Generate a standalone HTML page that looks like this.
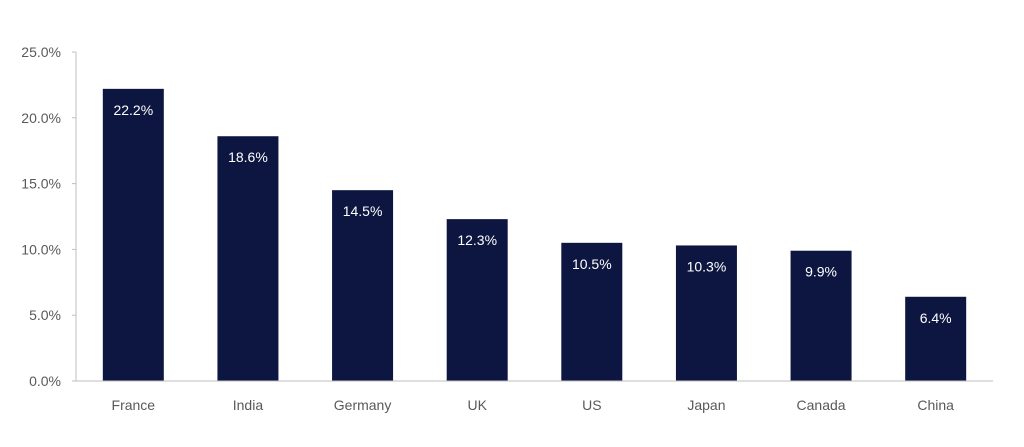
<!DOCTYPE html>
<html><head><meta charset="utf-8"><style>
html,body{margin:0;padding:0;background:#fff;}
svg{display:block;font-family:"Liberation Sans",sans-serif;}
</style></head><body>
<svg id="chart" width="1024" height="447"></svg>
<script>
const categories = ["France","India","Germany","UK","US","Japan","Canada","China"];
const values = [22.2,18.6,14.5,12.3,10.5,10.3,9.9,6.4];
const ticks = [0,5,10,15,20,25];
const tickLabels = ["0.0%","5.0%","10.0%","15.0%","20.0%","25.0%"];

const NS="http://www.w3.org/2000/svg";
const svg=document.getElementById('chart');
const x0=76,x1=993,y0=381,y1=52,maxV=25;
const band=(x1-x0)/categories.length, barW=61;
const y=v=>y0-(v/maxV)*(y0-y1);
const xc=i=>x0+band*(i+0.5);
function mk(tag,attrs,parent){const e=document.createElementNS(NS,tag);for(const k in attrs)e.setAttribute(k,attrs[k]);(parent||svg).appendChild(e);return e;}

const yAxis=mk('line',{x1:x0,y1:y1,x2:x0,y2:y0,stroke:'#bfbfbf','stroke-width':1});


ticks.forEach((t,i)=>{
  const tm=mk('line',{x1:x0-4,y1:y(t),x2:x0,y2:y(t),stroke:'#bfbfbf','stroke-width':1});
  
  
  const tl=mk('text',{x:61,y:y(t)+5,'text-anchor':'end','font-size':14,fill:'#595959'});
  tl.textContent=tickLabels[i];
  
  
});
categories.forEach((c,i)=>{
  const r=mk('rect',{x:xc(i)-barW/2,y:y(values[i]),width:barW,height:y0-y(values[i]),fill:'#0d1640'});
  
  
  const vl=mk('text',{x:xc(i),y:y(values[i])+26,'text-anchor':'middle','font-size':14,fill:'#ffffff'});
  vl.textContent=values[i].toFixed(1)+'%';
  
  
  const cl=mk('text',{x:xc(i),y:410,'text-anchor':'middle','font-size':14,fill:'#595959'});
  cl.textContent=c;
  
  
});
const xAxis=mk('line',{x1:x0-4,y1:y0,x2:x1,y2:y0,stroke:'#bfbfbf','stroke-width':1});


</script>
</body></html>
